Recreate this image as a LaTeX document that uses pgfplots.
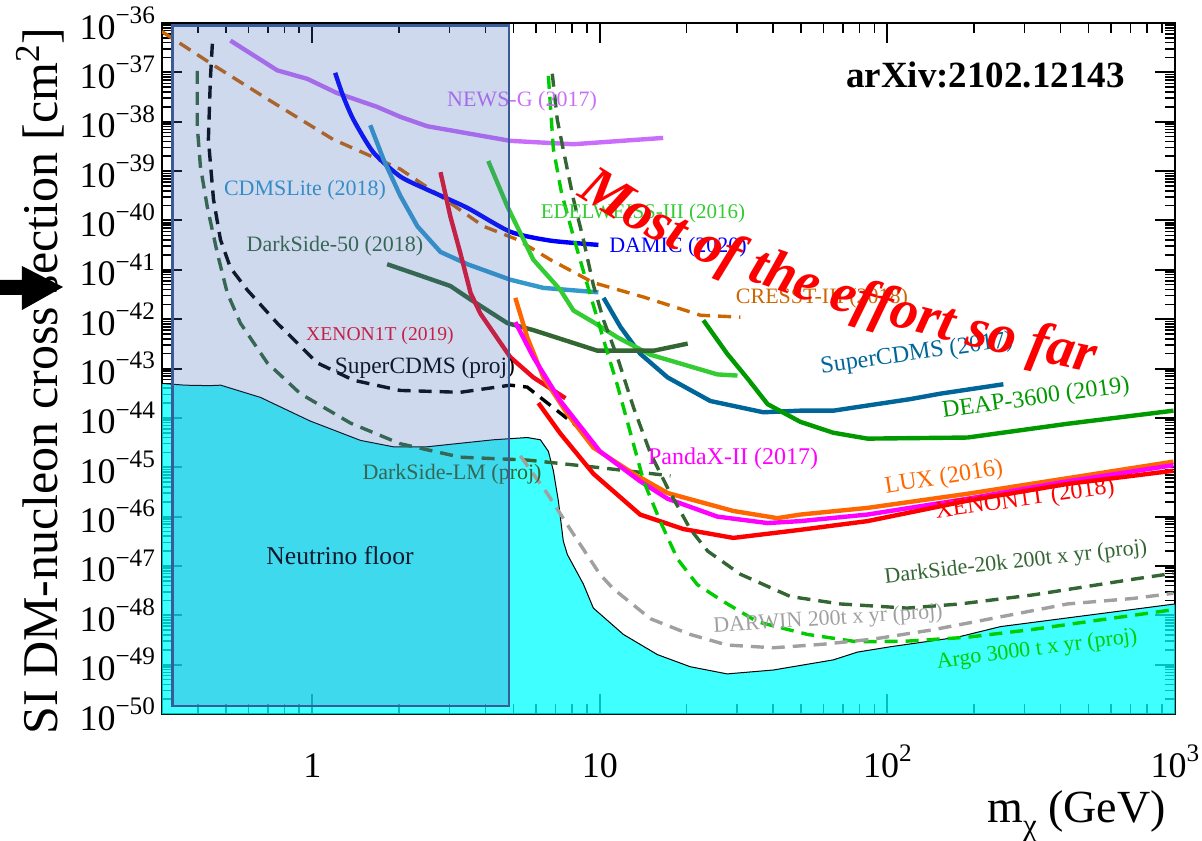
\documentclass[border=0pt]{standalone}
\usepackage{fontspec}
\setmainfont{Liberation Serif}
\usepackage{pgfplots}
\pgfplotsset{compat=1.18}
\usetikzlibrary{decorations.text}

\definecolor{floorcyan}{RGB}{0,255,255}
\definecolor{boxblue}{RGB}{64,104,186}
\definecolor{boxedge}{RGB}{58,90,154}
\definecolor{newsg}{RGB}{200,110,250}
\definecolor{cdmslite}{RGB}{51,153,204}
\definecolor{scdms}{RGB}{0,102,153}
\definecolor{edel}{RGB}{51,204,51}
\definecolor{dsgreen}{RGB}{51,102,51}
\definecolor{xecrim}{RGB}{240,10,30}
\definecolor{luxor}{RGB}{255,102,0}
\definecolor{deap}{RGB}{0,153,0}
\definecolor{cresst}{RGB}{204,102,0}
\definecolor{argo}{RGB}{0,204,0}
\definecolor{darwin}{RGB}{160,160,160}
\definecolor{pandax}{RGB}{255,0,255}

\newcommand{\tenpow}[1]{10\raisebox{0.95ex}{\fontsize{12.6}{14}\selectfont #1}}

\tikzset{
  lab/.style={inner sep=0pt, font=\fontsize{11}{13}\selectfont},
  labb/.style={inner sep=0pt, font=\fontsize{12}{14}\selectfont},
}

\begin{document}
\begin{tikzpicture}
\begin{axis}[
  at={(0,0)}, anchor=south west,
  scale only axis, width=506.5pt, height=345.5pt,
  xmode=log, ymode=log,
  xmin=0.3, xmax=1000, ymin=1e-50, ymax=1e-36,
  axis line style={line width=1.4pt},
  tick style={black, line width=1pt},
  minor tick style={line width=0.8pt},
  major tick length=10pt, minor tick length=5pt,
  xtick={1,10,100,1000},
  xticklabels={1,10,\tenpow{2},\tenpow{3}},
  minor xtick={0.4,0.5,0.6,0.7,0.8,0.9,2,3,4,5,6,7,8,9,20,30,40,50,60,70,80,90,200,300,400,500,600,700,800,900},
  ytick={1e-50,1e-49,1e-48,1e-47,1e-46,1e-45,1e-44,1e-43,1e-42,1e-41,1e-40,1e-39,1e-38,1e-37,1e-36},
  yticklabels={\tenpow{−50},\tenpow{−49},\tenpow{−48},\tenpow{−47},\tenpow{−46},\tenpow{−45},\tenpow{−44},\tenpow{−43},\tenpow{−42},\tenpow{−41},\tenpow{−40},\tenpow{−39},\tenpow{−38},\tenpow{−37},\tenpow{−36}},
  minor ytick={2e-50,3e-50,4e-50,5e-50,6e-50,7e-50,8e-50,9e-50,
    2e-49,3e-49,4e-49,5e-49,6e-49,7e-49,8e-49,9e-49,
    2e-48,3e-48,4e-48,5e-48,6e-48,7e-48,8e-48,9e-48,
    2e-47,3e-47,4e-47,5e-47,6e-47,7e-47,8e-47,9e-47,
    2e-46,3e-46,4e-46,5e-46,6e-46,7e-46,8e-46,9e-46,
    2e-45,3e-45,4e-45,5e-45,6e-45,7e-45,8e-45,9e-45,
    2e-44,3e-44,4e-44,5e-44,6e-44,7e-44,8e-44,9e-44,
    2e-43,3e-43,4e-43,5e-43,6e-43,7e-43,8e-43,9e-43,
    2e-42,3e-42,4e-42,5e-42,6e-42,7e-42,8e-42,9e-42,
    2e-41,3e-41,4e-41,5e-41,6e-41,7e-41,8e-41,9e-41,
    2e-40,3e-40,4e-40,5e-40,6e-40,7e-40,8e-40,9e-40,
    2e-39,3e-39,4e-39,5e-39,6e-39,7e-39,8e-39,9e-39,
    2e-38,3e-38,4e-38,5e-38,6e-38,7e-38,8e-38,9e-38,
    2e-37,3e-37,4e-37,5e-37,6e-37,7e-37,8e-37,9e-37},
  tick label style={font=\fontsize{18}{20}\selectfont},
  xticklabel style={anchor=base, yshift=-31.5pt},
  solid line/.style={line width=2.2pt},
  dash line/.style={line width=1.7pt, dash pattern=on 6.5pt off 4pt},
]
% neutrino floor
\addplot[fill=floorcyan, fill opacity=0.75, draw=none] coordinates {
 (0.30,5.0e-44) (0.36,4.6e-44) (0.44,4.5e-44) (0.48,4.6e-44) (0.66,2.6e-44)
 (0.98,8.7e-45) (1.47,3.5e-45) (1.91,2.6e-45) (2.51,2.6e-45) (4.26,3.6e-45)
 (5.59,4.0e-45) (6.21,3.6e-45) (6.62,2.1e-45) (6.89,8.5e-46) (7.17,2.1e-46)
 (7.46,3.2e-47) (7.71,1.7e-47) (8.76,4.3e-48) (9.49,1.4e-48) (12.07,4.1e-49)
 (15.85,1.6e-49) (20.6,9.1e-50) (27.7,6.5e-50) (40.1,7.8e-50) (64.8,1.25e-49)
 (78.7,1.8e-49) (102,2.3e-49) (175,3.6e-49) (247,5.9e-49) (1000,1.7e-48)
 (1000,1e-50) (0.3,1e-50)} -- cycle;
\addplot[black, line width=0.5pt] coordinates {
 (0.30,5.0e-44) (0.36,4.6e-44) (0.44,4.5e-44) (0.48,4.6e-44) (0.66,2.6e-44)
 (0.98,8.7e-45) (1.47,3.5e-45) (1.91,2.6e-45) (2.51,2.6e-45) (4.26,3.6e-45)
 (5.59,4.0e-45) (6.21,3.6e-45) (6.62,2.1e-45) (6.89,8.5e-46) (7.17,2.1e-46)
 (7.46,3.2e-47) (7.71,1.7e-47) (8.76,4.3e-48) (9.49,1.4e-48) (12.07,4.1e-49)
 (15.85,1.6e-49) (20.6,9.1e-50) (27.7,6.5e-50) (40.1,7.8e-50) (64.8,1.25e-49)
 (78.7,1.8e-49) (102,2.3e-49) (175,3.6e-49) (247,5.9e-49) (1000,1.7e-48)};

% NEWS-G
\addplot[newsg, solid line] coordinates {(0.519,4.4e-37) (0.755,1.1e-37) (0.96,7.4e-38) (1.22,3.8e-38) (1.68,2.0e-38) (2.02,1.26e-38) (2.51,8.1e-39) (4.88,4.1e-39) (8.09,3.5e-39) (16.6,4.7e-39)};
% CRESST-III
\addplot[cresst, dash line] coordinates {(0.30,6.7e-37) (0.453,1.4e-37) (0.697,2.9e-38) (1.18,4.4e-39) (2.02,1.1e-39) (2.79,3.1e-40) (3.94,7.6e-41) (5.16,4.1e-41) (6.73,1.6e-41) (9.49,5.5e-42) (14.2,2.8e-42) (22.4,1.2e-42) (30.8,1.1e-42)};
% SuperCDMS proj
\addplot[black, dash line] coordinates {(0.449,3.8e-37) (0.442,7.4e-38) (0.435,4.4e-39) (0.453,2.7e-40) (0.479,4.1e-41) (0.519,1.1e-41) (0.594,3.9e-42) (0.755,8.3e-43) (1.04,1.3e-43) (1.39,5.8e-44) (2.02,3.6e-44) (3.27,3.3e-44) (4.88,4.6e-44) (5.59,4.2e-44) (6.57,2.0e-44) (8.55,6.0e-45)};
% DarkSide-LM proj
\addplot[dsgreen, dash line] coordinates {(0.398,1.07e-37) (0.398,8.1e-39) (0.408,1.25e-39) (0.431,1.9e-40) (0.467,2.2e-41) (0.506,3.4e-42) (0.562,8.3e-43) (0.697,1.3e-43) (0.908,3.1e-44) (1.36,7.8e-45) (2.02,3.0e-45) (3.27,1.6e-45) (5.59,1.4e-45) (10.0,9.8e-46) (17.6,6.7e-46)};
% DAMIC
\addplot[blue, solid line, smooth, tension=0.4] coordinates {(1.20,9.8e-38) (1.28,3.3e-38) (1.39,1.1e-38) (1.63,2.4e-39) (2.02,7.8e-40) (2.51,4.2e-40) (3.46,1.8e-40) (4.88,5.9e-41) (6.73,3.9e-41) (9.88,3.2e-41)};
% CDMSLite
\addplot[cdmslite, solid line] coordinates {(1.59,8.5e-39) (1.77,1.7e-39) (2.02,3.2e-40) (2.32,7.6e-41) (2.79,2.3e-41) (3.46,1.3e-41) (4.88,6.3e-42) (6.36,4.3e-42) (9.88,3.5e-42)};
% SuperCDMS 2017
\addplot[scdms, solid line] coordinates {(10.3,2.7e-42) (11.8,6.9e-43) (13.8,2.0e-43) (17.2,6.6e-44) (24.2,2.2e-44) (37.0,1.3e-44) (49.8,1.4e-44) (64.8,1.4e-44) (120,2.4e-44) (153,3.1e-44) (253,4.8e-44)};
% EDELWEISS-III
\addplot[edel, solid line] coordinates {(4.09,1.6e-39) (4.77,1.9e-40) (5.87,1.6e-41) (7.29,3.9e-42) (8.09,1.5e-42) (9.49,8.7e-43) (11.5,4.3e-43) (15.0,1.9e-43) (25.6,7.6e-44) (30.1,7.2e-44)};
% DarkSide-50
\addplot[dsgreen, solid line] coordinates {(1.82,1.3e-41) (2.38,7.6e-42) (3.02,4.7e-42) (3.55,2.5e-42) (4.77,8.3e-43) (5.87,6.0e-43) (9.80,2.3e-43) (15.4,2.3e-43) (20.2,3.2e-43)};
% XENON1T 2019
\addplot[xecrim, solid line] coordinates {(2.79,9.5e-40) (3.02,1.2e-40) (3.27,2.2e-41) (3.55,3.4e-42) (3.84,1.3e-42) (4.88,1.7e-43) (5.87,6.6e-44) (7.59,2.5e-44)};
% DEAP-3600
\addplot[deap, solid line] coordinates {(22.9,9.5e-43) (27.7,2.0e-43) (32.6,6.3e-44) (38.3,1.9e-44) (49.8,8.3e-45) (64.8,5.0e-45) (85.2,3.8e-45) (190,4.0e-45) (423,7.6e-45) (988,1.4e-44)};
% LUX
\addplot[luxor, solid line] coordinates {(5.08,2.7e-42) (5.59,4.3e-43) (6.36,6.6e-44) (7.71,1.2e-44) (9.49,2.5e-45) (13.1,7.4e-46) (17.2,3.0e-46) (29.1,1.3e-46) (41.4,9.3e-47) (49.8,1.1e-46) (85.2,1.5e-46) (190,2.9e-46) (423,6.0e-46) (988,1.3e-45)};
% PandaX-II
\addplot[pandax, solid line] coordinates {(5.08,8.7e-43) (5.87,1.7e-43) (7.29,2.2e-44) (10.0,2.1e-45) (13.8,5.2e-46) (17.2,2.3e-46) (25.6,1.0e-46) (38.3,7.4e-47) (49.8,8.1e-47) (85.2,1.1e-46) (190,2.3e-46) (423,5.2e-46) (988,1.1e-45)};
% XENON1T 2018
\addplot[red, solid line] coordinates {(6.11,2.0e-44) (7.29,4.8e-45) (9.49,7.4e-46) (13.8,1.1e-46) (19.5,5.6e-47) (29.1,3.7e-47) (49.8,5.4e-47) (85.2,8.1e-47) (190,2.1e-46) (423,4.6e-46) (988,8.5e-46)};
% DarkSide-20k
\addplot[dsgreen, dash line] coordinates {(6.83,9.4e-38) (7.11,1.1e-38) (7.46,2.7e-39) (8.09,2.7e-40) (8.76,4.1e-41) (9.49,4.9e-42) (10.3,9.5e-43) (11.5,1.7e-43) (13.1,1.6e-44) (15.0,1.9e-45) (17.2,3.8e-46) (20.6,5.6e-47) (23.7,2.0e-47) (30.8,6.8e-48) (46.0,2.4e-48) (68.6,1.7e-48) (117,1.4e-48) (179,1.7e-48) (322,2.6e-48) (717,5.4e-48) (988,7.1e-48)};
% Argo
\addplot[argo, dash line] coordinates {(6.62,8.5e-38) (6.73,2.1e-38) (6.89,2.8e-39) (7.35,3.7e-40) (8.09,4.7e-41) (9.05,4.9e-42) (10.3,3.8e-43) (11.5,4.6e-44) (12.5,7.8e-45) (14.2,5.2e-46) (16.2,8.1e-47) (18.6,1.4e-47) (21.8,4.2e-48) (26.9,1.9e-48) (35.3,7.4e-49) (52.7,4.1e-49) (78.7,2.9e-49) (117,3.0e-49) (190,3.6e-49) (322,5.2e-49) (551,8.1e-49) (988,1.3e-48)};
% DARWIN
\addplot[darwin, dash line] coordinates {(5.29,1.7e-45) (6.57,2.9e-46) (8.09,4.4e-47) (10.0,6.8e-48) (11.1,3.5e-48) (15.0,8.5e-49) (20.6,4.1e-49) (27.7,2.5e-49) (40.1,2.2e-49) (59.9,2.6e-49) (89.4,3.3e-49) (144,5.1e-49) (247,9.3e-49) (423,1.7e-48) (717,2.2e-48) (988,2.8e-48)};

% labels
\node[lab, text=newsg] at (rel axis cs:0.3554,0.8871) {NEWS-G (2017)};
\node[lab, text=cdmslite] at (rel axis cs:0.1412,0.7583) {CDMSLite (2018)};
\node[lab, text=edel, font=\fontsize{10.5}{12}\selectfont] at (rel axis cs:0.4748,0.7250) {EDELWEISS-III (2016)};
\node[lab, text=blue] at (rel axis cs:0.5094,0.6758) {DAMIC (2020)};
\node[lab, text=dsgreen] at (rel axis cs:0.1708,0.6773) {DarkSide-50 (2018)};
\node[lab, text=cresst] at (rel axis cs:0.6515,0.6020) {CRESST-III (2018)};
\node[lab, text=xecrim, font=\fontsize{9.8}{12}\selectfont] at (rel axis cs:0.2152,0.5470) {XENON1T (2019)};
\node[lab, text=black, font=\fontsize{11.7}{13}\selectfont] at (rel axis cs:0.2596,0.5007) {SuperCDMS (proj)};
\node[labb, text=scdms, rotate=8] at (rel axis cs:0.7453,0.5210) {SuperCDMS (2017)};
\node[labb, text=deap, rotate=8] at (rel axis cs:0.8628,0.4559) {DEAP-3600 (2019)};
\node[labb, text=pandax] at (rel axis cs:0.5637,0.3690) {PandaX-II (2017)};
\node[labb, text=luxor, rotate=9] at (rel axis cs:0.7720,0.3415) {LUX (2016)};
\node[lab, text=dsgreen] at (rel axis cs:0.2863,0.3473) {DarkSide-LM (proj)};
\node[labb, text=red, rotate=8] at (rel axis cs:0.8519,0.3097) {XENON1T (2018)};
\node[lab, text=black, font=\fontsize{12.8}{14}\selectfont] at (rel axis cs:0.1757,0.2287) {Neutrino floor};
\node[lab, text=dsgreen, rotate=6.5] at (rel axis cs:0.8430,0.2185) {DarkSide-20k 200t x yr (proj)};
\node[lab, text=darwin, rotate=3.7] at (rel axis cs:0.6575,0.1360) {DARWIN 200t x yr (proj)};
\node[lab, text=argo, rotate=7.4] at (rel axis cs:0.8638,0.0926) {Argo 3000 t x yr (proj)};

% low-mass box
\addplot[fill=boxblue, fill opacity=0.25, draw=boxedge, line width=1.2pt] coordinates {(0.326,1.45e-50) (4.84,1.45e-50) (4.84,8.9e-37) (0.326,8.9e-37)} -- cycle;

% annotations
\node[anchor=east, inner sep=0pt, font=\fontsize{18.5}{21}\selectfont\bfseries] at (rel axis cs:0.9506,0.9247) {arXiv:2102.12143};
\path[decorate, decoration={text along path, text align=left,
  text={|\color{red}\bfseries\itshape\fontsize{28}{31}\selectfont|Most of the effort so far}}]
  (rel axis cs:0.4097,0.7511) .. controls (rel axis cs:0.5084,0.6498) and (rel axis cs:0.6772,0.5650) .. (rel axis cs:0.9161,0.4950) -- (rel axis cs:0.9753,0.4780);
\end{axis}
\node[rotate=90, anchor=base, font=\fontsize{25}{28}\selectfont] at (-52pt,166.5pt) {SI DM-nucleon cross section [cm\textsuperscript{2}]};
\node[anchor=base east, font=\fontsize{23}{27}\selectfont] at (505.5pt,-54pt) {m\raisebox{-0.3em}{\fontsize{15.5}{17}\selectfont χ} (GeV)};
\fill[black] (-81pt,209.5pt) -- (-70pt,209.5pt) -- (-70pt,202pt) -- (-49.5pt,213.5pt) -- (-70pt,224pt) -- (-70pt,217pt) -- (-81pt,217pt) -- cycle;
\pgfresetboundingbox
\useasboundingbox (-81pt,-63pt) rectangle (520pt,357pt);
\end{tikzpicture}
\end{document}
